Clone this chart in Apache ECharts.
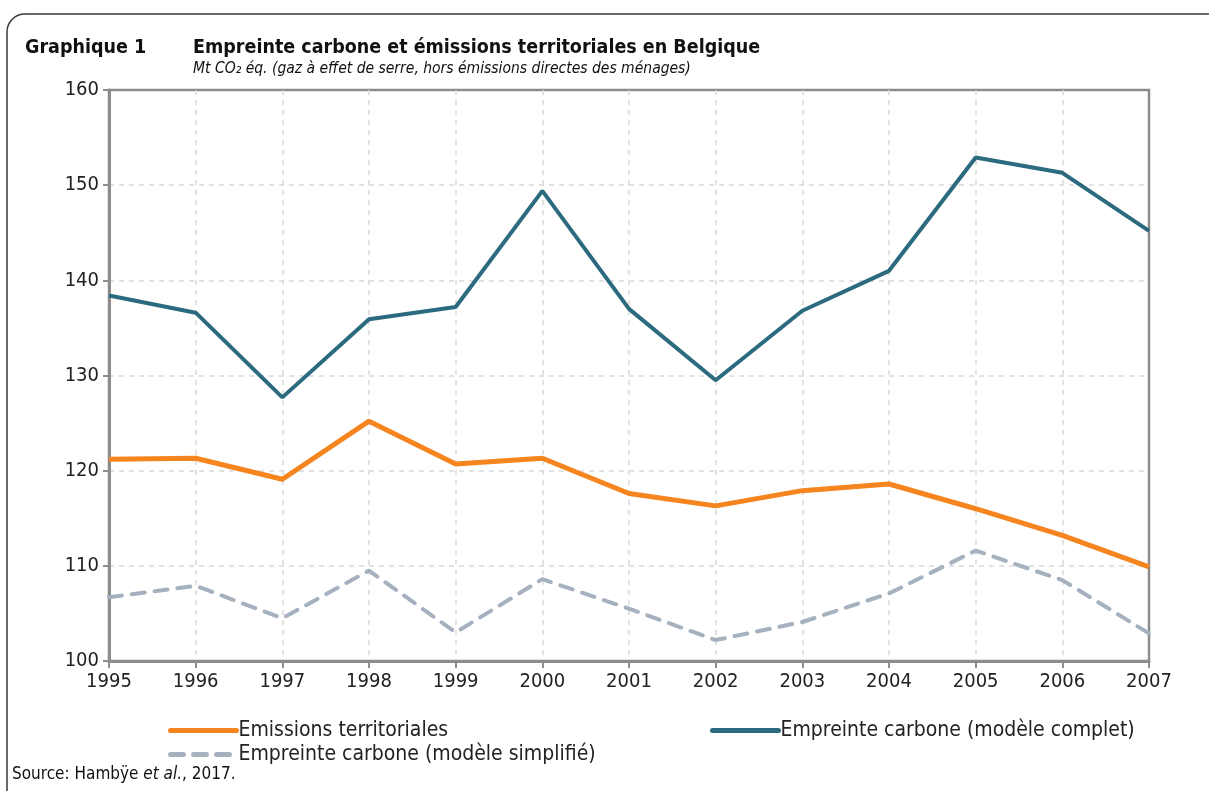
<!DOCTYPE html>
<html>
<head>
    <meta charset="utf-8">
    <title>Empreinte carbone</title>
    <script src="https://cdn.jsdelivr.net/npm/echarts@6/dist/echarts.min.js"></script>
    <style>
        html, body { margin: 0; padding: 0; background: #fff; }
    </style>
</head>
<body>
<div id="main" style="width: 1209px;height:791px;"></div>
<script type="text/javascript">
    // données (Mt CO2 éq.)
    var annees = ['1995', '1996', '1997', '1998', '1999', '2000', '2001',
                  '2002', '2003', '2004', '2005', '2006', '2007'];
    var emissionsTerritoriales = [121.2, 121.3, 119.1, 125.2, 120.7, 121.3, 117.6,
                                  116.3, 117.9, 118.6, 116.0, 113.2, 109.9];
    var empreinteComplet = [138.4, 136.6, 127.7, 135.9, 137.2, 149.4, 137.0,
                            129.5, 136.8, 141.0, 152.9, 151.3, 145.2];
    var empreinteSimplifie = [106.7, 107.9, 104.5, 109.5, 103.0, 108.6, 105.5,
                              102.2, 104.1, 107.1, 111.6, 108.5, 102.9];

    var police = '"DejaVu Sans Condensed", "DejaVu Sans", sans-serif';
    var gris = '#8c8c8c';
    var orange = '#f6851f', bleu = '#2b6a7f', grisClair = '#a6b1bf';

    var myChart = echarts.init(document.getElementById('main'));

    // légende : une entrée par composant pour placer chaque élément
    function legende(nom, x, y, couleur, pointille) {
        return {
            data: [nom],
            left: x, top: y,
            itemWidth: 66, itemHeight: 16, itemGap: 0,
            itemStyle: { opacity: 0 },
            lineStyle: { width: 5, color: couleur, type: pointille ? [13, 10] : 'solid', cap: 'round' },
            textStyle: { fontSize: 21, color: '#222', padding: [0, 0, 0, -3] }
        };
    }

    myChart.setOption({
        animation: false,
        textStyle: { fontFamily: police },
        grid: {
            left: 109, right: 60, top: 90, bottom: 130,
            show: true,
            borderColor: gris,
            borderWidth: 2.5
        },
        graphic: [
            {
                type: 'rect',
                shape: { x: 7, y: 14, width: 1240, height: 820, r: 18 },
                style: { fill: null, stroke: '#3a3a3a', lineWidth: 1.5 },
                silent: true
            },
            {
                type: 'text', left: 25, top: 38,
                style: { text: 'Graphique 1', font: 'bold 19.5px ' + police, fill: '#111' }
            },
            {
                type: 'text', left: 193, top: 38,
                style: { text: 'Empreinte carbone et émissions territoriales en Belgique',
                         font: 'bold 19.5px ' + police, fill: '#111' }
            },
            {
                type: 'text', left: 193, top: 61,
                style: { text: 'Mt CO₂ éq. (gaz à effet de serre, hors émissions directes des ménages)',
                         font: 'italic 15.5px ' + police, fill: '#111' }
            },
            {
                type: 'text', left: 12, top: 766,
                style: {
                    text: '{n|Source: Hambÿe }{i|et al.}{n|, 2017.}',
                    rich: {
                        n: { fontFamily: police, fontSize: 17, fill: '#111' },
                        i: { fontFamily: police, fontSize: 17, fontStyle: 'italic', fill: '#111' }
                    }
                }
            }
        ],
        legend: [
            legende('Emissions territoriales', 163, 715, orange, false),
            legende('Empreinte carbone (modèle complet)', 705, 715, bleu, false),
            legende('Empreinte carbone (modèle simplifié)', 163, 739, grisClair, true)
        ],
        xAxis: {
            type: 'category',
            data: annees,
            boundaryGap: false,
            axisLine: { lineStyle: { color: gris, width: 3 } },
            axisTick: { show: true, length: 7, lineStyle: { color: gris, width: 2 } },
            axisLabel: { fontSize: 20, color: '#222', margin: 11 },
            splitLine: {
                show: true, showMinLine: false, showMaxLine: false,
                lineStyle: { color: '#d9d9d9', type: [5, 5], width: 1.5 }
            }
        },
        yAxis: {
            type: 'value',
            min: 100, max: 160, interval: 10,
            axisLine: { show: true, lineStyle: { color: gris, width: 3 } },
            axisTick: { show: true, length: 6, lineStyle: { color: gris, width: 2 } },
            axisLabel: { fontSize: 20, color: '#222', margin: 10 },
            splitLine: {
                show: true, showMinLine: false, showMaxLine: false,
                lineStyle: { color: '#d9d9d9', type: [5, 5], width: 1.5 }
            }
        },
        series: [
            {
                name: 'Emissions territoriales',
                type: 'line',
                data: emissionsTerritoriales,
                symbol: 'none',
                color: orange,
                lineStyle: { color: orange, width: 5 },
                z: 4
            },
            {
                name: 'Empreinte carbone (modèle complet)',
                type: 'line',
                data: empreinteComplet,
                symbol: 'none',
                color: bleu,
                lineStyle: { color: bleu, width: 4 },
                z: 3
            },
            {
                name: 'Empreinte carbone (modèle simplifié)',
                type: 'line',
                data: empreinteSimplifie,
                symbol: 'none',
                color: grisClair,
                lineStyle: { color: grisClair, width: 4, type: [13, 10], cap: 'round' },
                z: 2
            }
        ]
    });
</script>
</body>
</html>
